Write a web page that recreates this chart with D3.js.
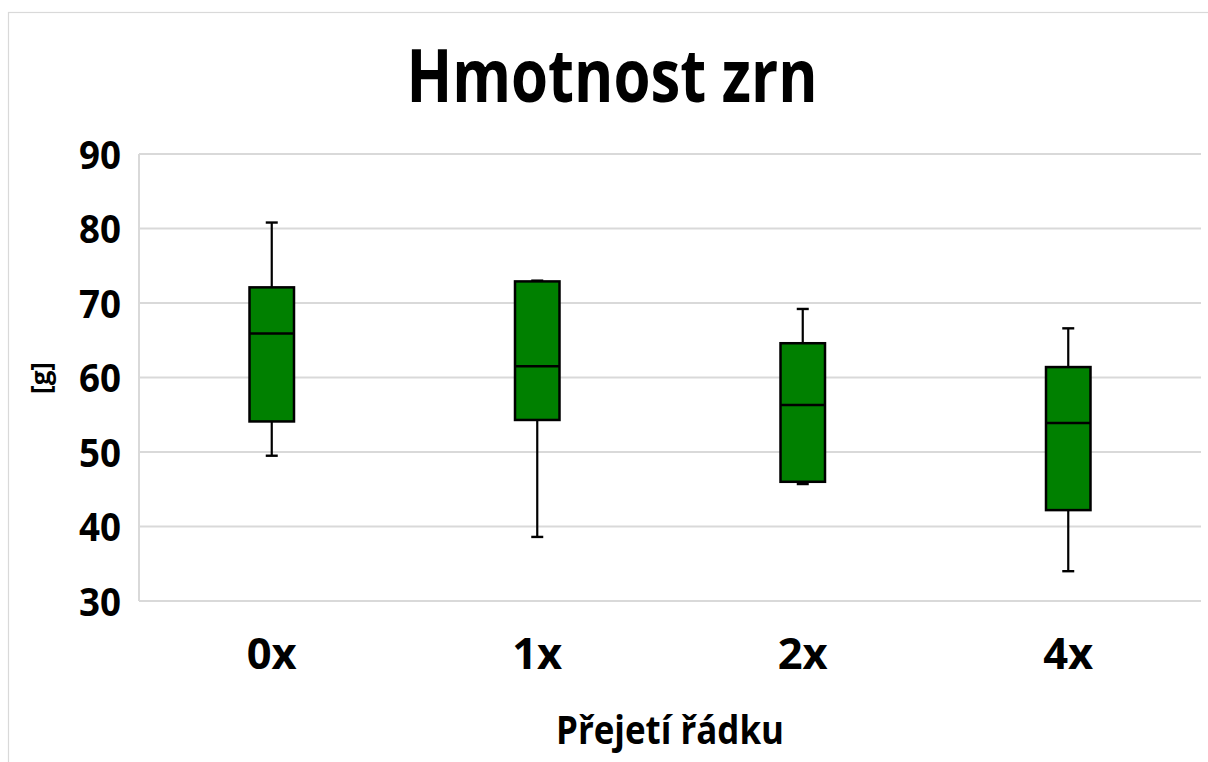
<!DOCTYPE html>
<html>
<head>
<meta charset="utf-8">
<script src="https://cdn.jsdelivr.net/npm/d3@7"></script>
<style>
  html, body { margin: 0; padding: 0; background: #fff; }
  svg { display: block; }
  text { font-family: "Open Sans", "Noto Sans", sans-serif; font-weight: 700; fill: #000; }
</style>
</head>
<body>
<svg id="chart" width="1208" height="762"></svg>
<script>
// ---- data ----
const categories = ["0x", "1x", "2x", "4x"];
const whiskerMin = [49.5, 38.6, 45.7, 34.0];
const quartile1  = [54.1, 54.3, 46.0, 42.2];
const medians    = [65.9, 61.5, 56.3, 53.9];
const quartile3  = [72.1, 72.9, 64.6, 61.4];
const whiskerMax = [80.8, 73.0, 69.2, 66.6];
const yTicks = [30, 40, 50, 60, 70, 80, 90];
const title = "Hmotnost zrn";
const xTitle = "Přejetí řádku";
const yTitle = "[g]";

const boxes = categories.map((c, i) => ({
  cat: c, min: whiskerMin[i], q1: quartile1[i], med: medians[i], q3: quartile3[i], max: whiskerMax[i]
}));

const svg = d3.select("#chart");
const W = 1208, H = 762;
const plot = { left: 139, right: 1201, top: 154, bottom: 601 };

// chart border
svg.append("rect")
  .attr("x", 8.5).attr("y", 12.5)
  .attr("width", W + 10).attr("height", H + 10)
  .attr("fill", "#fff").attr("stroke", "#d9d9d9").attr("stroke-width", 1.2);

const x = d3.scaleBand().domain(categories).range([plot.left, plot.right]);
const y = d3.scaleLinear().domain([30, 90]).range([plot.bottom, plot.top]);

// gridlines
svg.append("g").selectAll("line").data(yTicks).join("line")
  .attr("x1", plot.left).attr("x2", plot.right)
  .attr("y1", d => y(d)).attr("y2", d => y(d))
  .attr("stroke", "#d9d9d9").attr("stroke-width", 2);
// vertical axis line
svg.append("line")
  .attr("x1", plot.left).attr("x2", plot.left)
  .attr("y1", y(90)).attr("y2", y(30))
  .attr("stroke", "#d9d9d9").attr("stroke-width", 2);

// y tick labels via axis
const yAxis = d3.axisLeft(y).tickValues(yTicks).tickSize(0).tickPadding(0);
const yg = svg.append("g").attr("transform", `translate(121,0)`).call(yAxis);
yg.select(".domain").remove();
yg.selectAll("text")
  .attr("font-size", 40).attr("font-family", null).attr("fill", "#000")
  .attr("dy", "0.36em")
  .attr("textLength", 42).attr("lengthAdjust", "spacingAndGlyphs");

// x tick labels via axis
const xAxis = d3.axisBottom(x).tickSize(0).tickPadding(0);
const xg = svg.append("g").attr("transform", `translate(0,669)`).call(xAxis);
xg.select(".domain").remove();
xg.selectAll("text")
  .attr("font-size", 43).attr("font-family", null).attr("fill", "#000")
  .attr("y", 0).attr("dy", 0)
  .attr("textLength", 50).attr("lengthAdjust", "spacingAndGlyphs");

// boxes
const bw = 44.5;
const capW = 12;
const g = svg.append("g").selectAll("g").data(boxes).join("g")
  .attr("transform", d => `translate(${x(d.cat) + x.bandwidth() / 2},0)`);

// whiskers
g.append("line").attr("x1", 0).attr("x2", 0)
  .attr("y1", d => y(d.max)).attr("y2", d => y(d.q3))
  .attr("stroke", "#000").attr("stroke-width", 2.2);
g.append("line").attr("x1", 0).attr("x2", 0)
  .attr("y1", d => y(d.q1)).attr("y2", d => y(d.min))
  .attr("stroke", "#000").attr("stroke-width", 2.2);
g.append("line").attr("x1", -capW / 2).attr("x2", capW / 2)
  .attr("y1", d => y(d.max)).attr("y2", d => y(d.max))
  .attr("stroke", "#000").attr("stroke-width", 2.4);
g.append("line").attr("x1", -capW / 2).attr("x2", capW / 2)
  .attr("y1", d => y(d.min)).attr("y2", d => y(d.min))
  .attr("stroke", "#000").attr("stroke-width", 2.4);
// box
g.append("rect")
  .attr("x", -bw / 2).attr("width", bw)
  .attr("y", d => y(d.q3)).attr("height", d => y(d.q1) - y(d.q3))
  .attr("fill", "#008000").attr("stroke", "#000").attr("stroke-width", 2.5);
// median
g.append("line").attr("x1", -bw / 2).attr("x2", bw / 2)
  .attr("y1", d => y(d.med)).attr("y2", d => y(d.med))
  .attr("stroke", "#000").attr("stroke-width", 2.5);

// title
svg.append("text").attr("x", 612).attr("y", 102)
  .attr("text-anchor", "middle").attr("font-size", 73)
  .attr("textLength", 411).attr("lengthAdjust", "spacingAndGlyphs")
  .text(title);

// x title
svg.append("text").attr("x", 670).attr("y", 744)
  .attr("text-anchor", "middle").attr("font-size", 40)
  .attr("textLength", 228).attr("lengthAdjust", "spacingAndGlyphs")
  .text(xTitle);

// y title
svg.append("text")
  .attr("transform", `translate(50,378) rotate(-90)`)
  .attr("text-anchor", "middle").attr("font-size", 26)
  .text(yTitle);
</script>
</body>
</html>
